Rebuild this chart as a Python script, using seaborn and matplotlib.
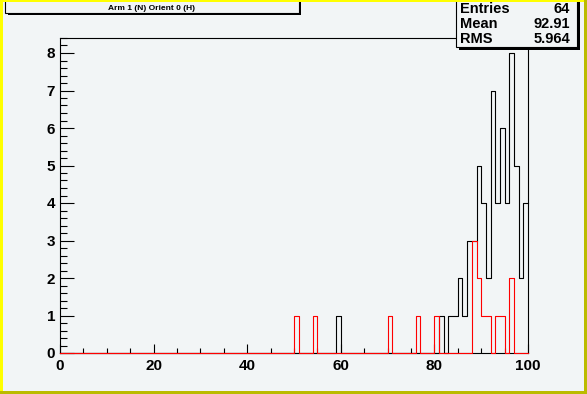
import numpy as np
import pandas as pd
import seaborn as sns
import matplotlib.pyplot as plt
from matplotlib.patches import Rectangle
from matplotlib.ticker import MultipleLocator

# Histogram contents (bin width 1 over 0-100)
black_bins = [59, 81, 83, 84, 85, 86, 87, 88, 89, 90, 91, 92, 93, 94, 95, 96, 97, 98, 99]
black_counts = [1, 1, 1, 1, 2, 1, 3, 3, 5, 4, 2, 7, 4, 6, 4, 8, 5, 2, 4]
red_bins = [50, 54, 70, 76, 80, 88, 89, 90, 91, 93, 94, 96]
red_counts = [1, 1, 1, 1, 1, 3, 2, 1, 1, 1, 1, 2]

title = "Arm 1 (N) Orient 0 (H)"
stats_labels = ["Entries", "Mean", "RMS"]
stats_values = ["64", "92.91", "5.964"]

black = pd.DataFrame({"x": np.array(black_bins) + 0.5, "w": black_counts})
red = pd.DataFrame({"x": np.array(red_bins) + 0.5, "w": red_counts})

W, H = 587, 394
bg = "#f2f5f6"
plt.rcParams['font.family'] = ['Liberation Sans', 'DejaVu Sans']
plt.rcParams['font.weight'] = 'bold'

fig = plt.figure(figsize=(W / 100, H / 100), dpi=100, facecolor=bg)
ax = fig.add_axes([60 / W, 1 - 353 / H, 468 / W, 315 / H], facecolor=bg)

# draw both histograms as ROOT-like outlines
for df, col in [(black, "black"), (red, "red")]:
    sns.histplot(data=df, x="x", weights="w", bins=100, binrange=(0, 100),
                 element="step", fill=False, color=col, linewidth=0.8, ax=ax)
for ln in ax.lines:
    ln.set_clip_on(False)
    ln.set_zorder(3)

ax.set_xlim(0, 100)
ax.set_ylim(0, 8.4)
ax.set_xlabel("")
ax.set_ylabel("")

ax.xaxis.set_major_locator(MultipleLocator(20))
ax.xaxis.set_minor_locator(MultipleLocator(5))
ax.yaxis.set_major_locator(MultipleLocator(1))
ax.yaxis.set_minor_locator(MultipleLocator(0.2))
ax.tick_params(which='both', direction='in', width=0.8, top=False, right=False, colors='black')
ax.tick_params(axis='x', which='major', length=6.8, pad=4, labelsize=11)
ax.tick_params(axis='x', which='minor', length=3.4)
ax.tick_params(axis='y', which='major', length=10, pad=3.5, labelsize=11)
ax.tick_params(axis='y', which='minor', length=5)
for lab in ax.get_xticklabels() + ax.get_yticklabels():
    lab.set_fontweight('bold')
for sp in ax.spines.values():
    sp.set_linewidth(0.8)
    sp.set_color('black')


def fig_rect(x0, y0, x1, y1, **kw):
    return Rectangle((x0 / W, 1 - y1 / H), (x1 - x0) / W, (y1 - y0) / H,
                     transform=fig.transFigure, **kw)


# canvas bevel border
fig.add_artist(fig_rect(0, 0, 3, H, facecolor='#ffff00', edgecolor='none', zorder=10))
fig.add_artist(fig_rect(0, 0, W, 2, facecolor='#ffff00', edgecolor='none', zorder=10))
fig.add_artist(fig_rect(W - 3, 0, W, H, facecolor='#bbbb00', edgecolor='none', zorder=11))
fig.add_artist(fig_rect(0, H - 3, W, H, facecolor='#bbbb00', edgecolor='none', zorder=11))

# title box with shadow
fig.add_artist(fig_rect(8, -2, 301, 15, facecolor='black', edgecolor='none', zorder=5))
fig.add_artist(fig_rect(5, -2, 299, 12.7, facecolor=bg, edgecolor='black', lw=0.8, zorder=6))
fig.text(152 / W, 1 - 10 / H, title, ha='center', va='baseline', fontsize=6,
         fontweight='bold', zorder=7)

# stats box with shadow
fig.add_artist(fig_rect(459, -2, 579.5, 49.5, facecolor='black', edgecolor='none', zorder=5))
fig.add_artist(fig_rect(456, -2, 577, 47, facecolor=bg, edgecolor='black', lw=0.8, zorder=6))
for i, (lab, val) in enumerate(zip(stats_labels, stats_values)):
    yb = 1 - (13.3 + 14.7 * i) / H
    fig.text(460 / W, yb, lab, ha='left', va='baseline', fontsize=10.5, fontweight='bold', zorder=7)
    fig.text(570 / W, yb, val, ha='right', va='baseline', fontsize=10.5, fontweight='bold', zorder=7)

fig.savefig("out.png", dpi=100, facecolor=bg)
